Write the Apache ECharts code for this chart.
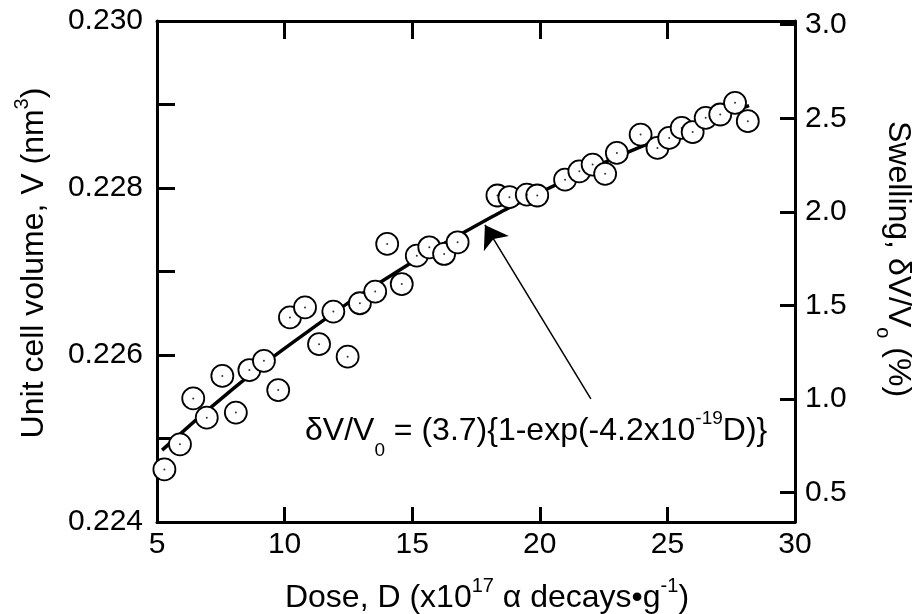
<!DOCTYPE html>
<html>
<head>
<meta charset="utf-8">
<script src="https://cdn.jsdelivr.net/npm/echarts@6/dist/echarts.min.js"></script>
<style>
html,body{margin:0;padding:0;background:#fff;}
#chart{width:918px;height:614px;}
</style>
</head>
<body>
<div id="chart"></div>
<script>
// Measured data (dose in 1e17 alpha decays/g, unit cell volume in nm^3)
var dose = [5.29,5.90,6.42,6.95,7.56,8.09,8.62,9.19,9.75,10.21,10.80,11.35,11.91,12.47,12.95,13.55,14.02,14.59,15.18,15.67,16.25,16.78,18.34,18.81,19.49,19.90,20.99,21.55,22.07,22.56,23.02,23.95,24.61,25.07,25.56,25.99,26.50,27.07,27.65,28.15];
var volume = [0.22463,0.22493,0.22548,0.22525,0.22575,0.22531,0.22582,0.22593,0.22558,0.22645,0.22657,0.22613,0.22652,0.22598,0.22662,0.22676,0.22733,0.22685,0.22719,0.22729,0.22721,0.22735,0.22791,0.22789,0.22792,0.22791,0.22810,0.22820,0.22828,0.22817,0.22842,0.22864,0.22848,0.22860,0.22872,0.22867,0.22884,0.22888,0.22902,0.22880];
// Fitted curve (swelling, %)
var fitDose = [5.2,8,11,14,17,20,23,26,28.2];
var fitSwelling = [0.726,1.056,1.369,1.645,1.888,2.103,2.292,2.459,2.568];
// Arrow (annotation pointer) tail and tip, in dose / swelling units
var arrowTail = [22.0, 1.0];
var arrowTip = [17.85, 1.93];
// Axis ranges and tick values
var xTicks = [5,10,15,20,25,30];
var volRange = [0.224, 0.230];
var swellRange = [0.342, 3.02];
// Texts (pieces: text, role) — role n = normal, s = superscript, b = subscript
var xTitle = [['Dose, D (x10','n'],['17','s'],[' \u03b1 decays\u2022g','n'],['-1','s'],[')','n']];
var yTitle = [['Unit cell volume, V (nm','n'],['3','s'],[')','n']];
var y2Title = [['Swelling, \u03b4V/V','n'],['o','b'],[' (%)','n']];
var formula = [['\u03b4V/V','n'],['0','b'],[' = (3.7){1-exp(-4.2x10','n'],['-19','s'],['D)}','n']];

var FONT = "'Liberation Sans', Arial, Helvetica, sans-serif";
var pts = dose.map(function(d,i){return [d, volume[i]];});
var fitPts = fitDose.map(function(d,i){return [d, fitSwelling[i]];});

var measCtx = document.createElement('canvas').getContext('2d');
// Lay out a line of mixed-size text; returns children for a graphic group whose origin is at
// (anchor along the text, baseline).
function textLine(pieces, fn, fs, rise, drop, anchor){
  var items = [], x = 0;
  pieces.forEach(function(p){
    var f = p[1] === 'n' ? fn : fs;
    measCtx.font = f + 'px ' + FONT;
    var w = measCtx.measureText(p[0]).width;
    var off = p[1] === 's' ? -rise : (p[1] === 'b' ? drop : 0);
    items.push({t:p[0], f:f, x:x, off:off});
    x += w;
  });
  var start = anchor === 'center' ? -x/2 : 0;
  return items.map(function(it){
    return {type:'text', x: start + it.x, y: it.off - 0.3465*it.f, z:10, silent:true,
      style:{text:it.t, fontSize:it.f, fontFamily:FONT, fill:'#000', align:'left', verticalAlign:'middle'}};
  });
}

var chart = echarts.init(document.getElementById('chart'), null, {renderer:'canvas'});
var axisLineStyle = {color:'#000', width:3};
var option = {
  animation:false,
  backgroundColor:'#fff',
  grid:{left:157, right:123, top:21, bottom:92, containLabel:false, outerBoundsMode:'none'},
  xAxis:[
    {type:'value', position:'bottom', min:xTicks[0], max:xTicks[xTicks.length-1], interval:5,
     axisLine:{show:true, onZero:false, lineStyle:axisLineStyle},
     axisTick:{show:true, inside:true, length:15, lineStyle:{color:'#000', width:3}},
     axisLabel:{show:true, color:'#000', fontSize:30, fontFamily:FONT, margin:8},
     splitLine:{show:false}},
    {type:'value', position:'top', min:xTicks[0], max:xTicks[xTicks.length-1], interval:5,
     axisLine:{show:true, onZero:false, lineStyle:axisLineStyle},
     axisTick:{show:true, inside:true, length:18, lineStyle:{color:'#000', width:3}},
     axisLabel:{show:false}, splitLine:{show:false}}
  ],
  yAxis:[
    {type:'value', position:'left', min:volRange[0], max:volRange[1], interval:0.001,
     axisLine:{show:true, onZero:false, lineStyle:axisLineStyle},
     axisTick:{show:true, inside:true, length:18, lineStyle:{color:'#000', width:3}},
     axisLabel:{show:true, color:'#000', fontSize:30, fontFamily:FONT, margin:14,
       formatter:function(v){var k=Math.round(v*1000); return (k%2===0)? v.toFixed(3):'';}},
     splitLine:{show:false}},
    {type:'value', position:'right', min:swellRange[0], max:swellRange[1], splitNumber:5,
     axisLine:{show:true, onZero:false, lineStyle:axisLineStyle},
     axisTick:{show:true, inside:true, length:15, lineStyle:{color:'#000', width:3}},
     axisLabel:{show:true, color:'#000', fontSize:30, fontFamily:FONT, margin:10,
       showMinLabel:false, showMaxLabel:false,
       formatter:function(v){return v.toFixed(1);}},
     splitLine:{show:false}}
  ],
  series:[
    {type:'line', xAxisIndex:0, yAxisIndex:1, data:fitPts, smooth:true, showSymbol:false, symbol:'none',
     lineStyle:{color:'#000', width:3.5}, z:2, silent:true,
     markLine:{silent:true, symbol:['none','arrow'], symbolSize:22,
       label:{show:false}, lineStyle:{color:'#000', width:1.5, type:'solid'},
       itemStyle:{color:'#000'},
       data:[[{coord:arrowTail},{coord:arrowTip}]]}},
    {type:'scatter', xAxisIndex:0, yAxisIndex:0, data:pts, symbol:'circle', symbolSize:22,
     itemStyle:{color:'#fff', borderColor:'#000', borderWidth:1.8, opacity:1}, z:3, silent:true},
    {type:'scatter', xAxisIndex:0, yAxisIndex:0, data:pts, symbol:'circle', symbolSize:2,
     itemStyle:{color:'#000'}, z:4, silent:true}
  ],
  graphic:[
    {type:'group', x:487, y:609, children:textLine(xTitle, 32, 20, 16, 0, 'center')},
    {type:'group', x:45, y:263, rotation:Math.PI/2, children:textLine(yTitle, 32, 20, 16, 0, 'center')},
    {type:'group', x:887, y:259, rotation:-Math.PI/2, children:textLine(y2Title, 32, 20, 0, 11, 'center')},
    {type:'group', x:305, y:442, children:textLine(formula, 32, 19, 17, 15, 'left')}
  ]
};
chart.setOption(option);
</script>
</body>
</html>
